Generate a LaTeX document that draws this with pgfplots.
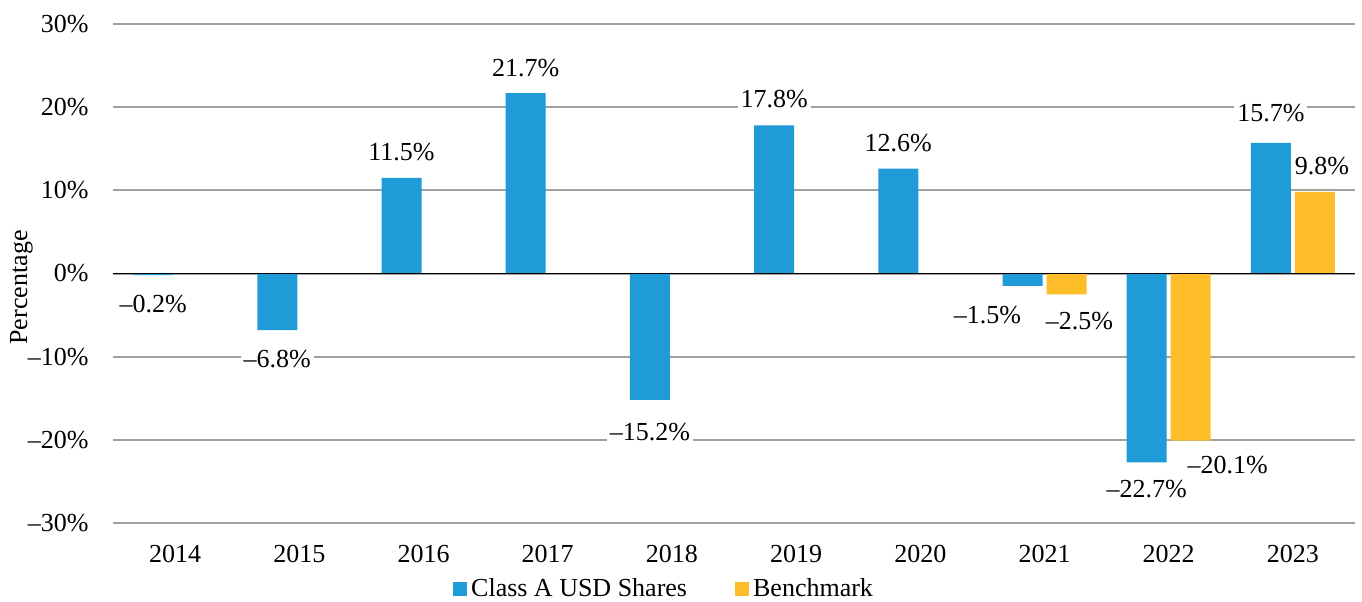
\documentclass[border=0pt]{standalone}
\usepackage{fontspec}
\setmainfont{Liberation Serif}
\usepackage{pgfplots}
\pgfplotsset{compat=1.18}
\usepackage{pgfplotstable}
\definecolor{cblue}{RGB}{31,155,215}
\definecolor{cyellow}{RGB}{253,190,42}
\definecolor{cgrid}{RGB}{160,160,160}

\pgfplotstableread{
x y lab dx dy
0 -0.2 –0.2 0 -14.5
1 -6.8 –6.8 0 -14.3
2 11.5 11.5 0 13
3 21.7 21.7 0 12.5
4 -15.2 –15.2 0 -16
5 17.8 17.8 0 13.2
6 12.6 12.6 0 12.8
7 -1.5 –1.5 -17.5 -14.5
8 -22.7 –22.7 0 -13.5
9 15.7 15.7 0 15
}\classA

\pgfplotstableread{
x y lab dx dy
7 -2.5 –2.5 6.5 -13.5
8 -20.1 –20.1 18.5 -12
9 9.8 9.8 3.5 12.8
}\bench

\begin{document}
\fontsize{13}{15.6}\selectfont
\begin{tikzpicture}
\begin{axis}[
  scale only axis,
  width=621pt, height=249.5pt,
  ybar, bar width=20pt,
  xmin=-0.5, xmax=9.5,
  ymin=-30, ymax=30,
  xtick={0,...,9},
  xticklabels={2014,2015,2016,2017,2018,2019,2020,2021,2022,2023},
  ytick={-30,-20,-10,0,10,20,30},
  yticklabels={–30\%,–20\%,–10\%,0\%,10\%,20\%,30\%},
  axis line style={draw=none},
  major tick length=0pt,
  tick style={draw=none},
  ymajorgrids,
  major grid style={cgrid, line width=1pt},
  yticklabel style={inner sep=0pt, xshift=-12pt},
  xticklabel style={inner sep=0pt, yshift=-11pt},
  ylabel={Percentage},
  ylabel style={at={(axis description cs:-0.0737,0.472)}, anchor=center},
  legend columns=2,
  legend style={draw=none, at={(axis description cs:0.4445,-0.133)}, anchor=center,
    /tikz/every even column/.append style={column sep=22pt},
    cells={anchor=west}, inner sep=0pt},
  legend image code/.code={\fill[#1,draw=none] (0pt,-3.5pt) rectangle (7pt,3.5pt);},
  point meta=explicit symbolic,
  nodes near coords={\pgfplotspointmeta\%},
  visualization depends on={\thisrow{dx} \as \dx},
  visualization depends on={\thisrow{dy} \as \dy},
  every node near coord/.append style={anchor=center, fill=white, inner sep=1.5pt, text=black, xshift=\dx pt, yshift=\dy pt},
]
\addplot[fill=cblue, draw=none, bar shift=-11pt] table[x=x,y=y,meta=lab]{\classA};
\addlegendentry{Class A USD Shares}
\addplot[fill=cyellow, draw=none, bar shift=11pt] table[x=x,y=y,meta=lab]{\bench};
\addlegendentry{Benchmark}
\draw[black, line width=0.8pt] (axis cs:-0.5,0) -- (axis cs:9.5,0);
\end{axis}
\pgfresetboundingbox
\path (current axis.south west) ++(-56.5pt,-39pt) rectangle ++(681pt,300.5pt);
\end{tikzpicture}
\end{document}
